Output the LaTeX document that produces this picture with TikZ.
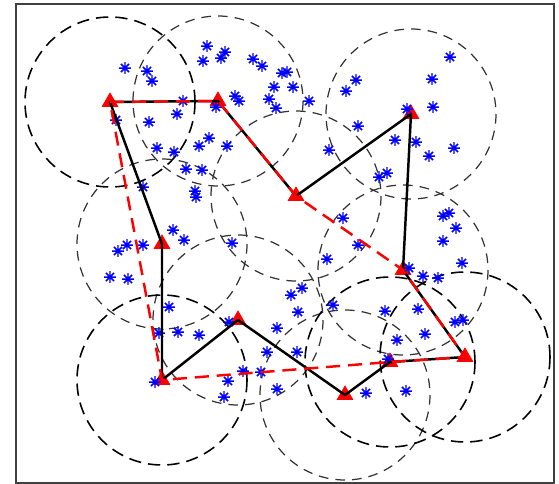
\documentclass[tikz,border=0pt]{standalone}
\usepackage{tikz}
\usetikzlibrary{shapes.geometric}

\begin{document}
\begin{tikzpicture}[x=0.02cm,y=-0.02cm,
    frame/.style={draw=black!75,line width=1.1pt},
    cover/.style={draw=black!80,line width=0.7pt,dash pattern=on 5.5pt off 4pt},
    coverbold/.style={draw=black,line width=0.9pt,dash pattern=on 7pt off 4pt},
    sensor/.style={draw=blue,line width=0.85pt},
    head/.style={regular polygon,regular polygon sides=3,fill=red,draw=red,
                 minimum size=0.36cm,inner sep=0pt},
    tour/.style={draw=black,line width=1.4pt,line join=round},
    tourred/.style={draw=red,line width=1.4pt,dash pattern=on 8pt off 4.5pt},
]
\useasboundingbox (0,0) rectangle (559,484);

% ---- coverage radius -----------------------------------------------------
\def\rCov{85}
\def\rS{5.8}
\def\dS{4.1}

% ---- Cluster heads -------------------------------------------------------
\coordinate (h1)  at (110,102);
\coordinate (h2)  at (218,101);
\coordinate (h3)  at (296,196);
\coordinate (h4)  at (411,114);
\coordinate (h5)  at (403,270);
\coordinate (h6)  at (465,357);
\coordinate (h7)  at (390,362);
\coordinate (h8)  at (345,395);
\coordinate (h9)  at (238,320);
\coordinate (h10) at (162,380);
\coordinate (h11) at (162,244);

% ---- Frame ---------------------------------------------------------------
\draw[frame] (16,4) rectangle (554,483);

% ---- Coverage circles ----------------------------------------------------
\foreach \h in {h2,h3,h4,h5,h8,h9,h11}
    \draw[cover] (\h) circle[radius=\rCov];
\foreach \h in {h1,h6,h7,h10}
    \draw[coverbold] (\h) circle[radius=\rCov];

% ---- Head markers --------------------------------------------------------
\foreach \h in {h1,h2,h3,h4,h5,h6,h7,h8,h9,h10,h11}
    \node[head] (m\h) at (\h) {};

% ---- Sensors (asterisks) -------------------------------------------------
\foreach \x/\y in {125/68, 147/71, 152/81, 207/46, 203/61, 221/58, 225/52,
    253/59, 262/66, 282/73, 287/72, 274/87, 293/87, 269/99, 276/108, 309/101,
    235/96, 239/101, 216/107, 183/101, 177/114, 116/120, 149/122, 157/148,
    174/152, 199/146, 209/138, 227/146, 186/169, 202/170, 143/187, 195/191,
    196/197, 173/230, 184/240,
    450/57, 432/79, 356/80, 346/91, 433/107, 407/109, 358/126, 395/140,
    416/142, 329/150, 454/148, 429/156, 379/177, 387/173, 443/216, 449/213,
    456/228, 443/241, 343/218, 358/245,
    232/243, 127/245, 118/251, 143/245, 110/277, 128/279, 327/259, 462/263,
    409/268, 423/276, 438/278,
    169/307, 159/333, 178/332, 199/335, 229/322, 291/295, 302/288, 298/312,
    333/305, 385/311, 418/309, 455/322, 463/320, 397/340, 425/334, 277/328,
    267/352, 297/352, 243/371, 261/372, 228/381, 224/397, 277/389, 155/382,
    388/359, 366/393, 406/391}
{
    \draw[sensor] (\x,\y) +(-\rS,0) -- +(\rS,0) +(0,-\rS) -- +(0,\rS)
        +(-\dS,-\dS) -- +(\dS,\dS) +(-\dS,\dS) -- +(\dS,-\dS);
}

% ---- Tours ---------------------------------------------------------------
\draw[tour] (h1) -- (h2) -- (h3) -- (h4) -- (h5) -- (h6) -- (h7) -- (h8)
    -- (h9) -- (h10) -- (h11) -- cycle;
\draw[tourred] (h1) -- (h2) -- (h3) -- (h5) -- (h6) -- (h7) -- (h10) -- cycle;

\end{tikzpicture}
\end{document}
